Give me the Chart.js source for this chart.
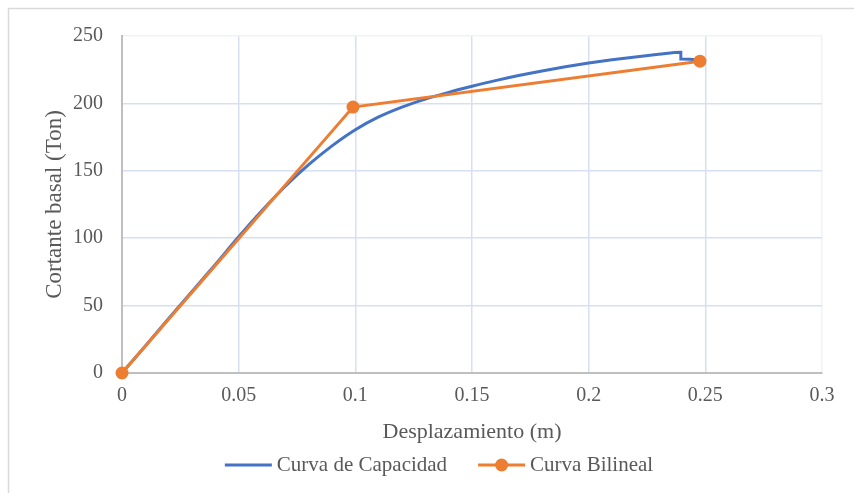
<!DOCTYPE html>
<html>
<head>
<meta charset="utf-8">
<script src="https://cdn.jsdelivr.net/npm/chart.js@4.4.1/dist/chart.umd.min.js"></script>
<style>
    html, body { margin: 0; padding: 0; background: #fff; }
    #wrap { width: 854px; height: 493px; }
</style>
</head>
<body>
<div id="wrap"><canvas id="pushover-chart" width="854" height="493"></canvas></div>
<script>
// Pushover capacity curve and its bilinear idealisation
const capacityX = [0, 0.01, 0.02, 0.03, 0.04, 0.05, 0.06, 0.07, 0.08, 0.09, 0.10, 0.11, 0.12, 0.13,
                   0.14, 0.15, 0.16, 0.17, 0.18, 0.19, 0.20, 0.21, 0.22, 0.23, 0.2395, 0.2395, 0.2455];
const capacityY = [0, 20, 40.5, 60.5, 80.5, 101, 120.5, 138.5, 154.5, 168.5, 180.5, 190, 197.3, 203.2,
                   208.2, 212.7, 216.9, 220.7, 224.1, 227.2, 230, 232.4, 234.5, 236.4, 238, 233, 232.5];

const bilinearX = [0, 0.099, 0.2477];
const bilinearY = [0, 197.3, 231.3];

const xTickLabels = ['0', '0.05', '0.1', '0.15', '0.2', '0.25', '0.3'];
const yTickLabels = ['0', '50', '100', '150', '200', '250'];

const seriesNames = ['Curva de Capacidad', 'Curva Bilineal'];
const xTitle = 'Desplazamiento (m)';
const yTitle = 'Cortante basal (Ton)';

const BLUE = '#4472c4';
const ORANGE = '#ed7d31';
const TEXT = '#595959';
const FONT = '"Liberation Serif", "Times New Roman", serif';

function toPoints(xs, ys) {
    return xs.map((x, i) => ({ x: x, y: ys[i] }));
}

// Frame around the whole chart plus a hand-drawn legend (line + marker samples)
const chartFrame = {
    id: 'chartFrame',
    beforeDraw(chart) {
        const ctx = chart.ctx;
        ctx.save();
        ctx.fillStyle = '#fff';
        ctx.fillRect(0, 0, chart.width, chart.height);
        ctx.strokeStyle = '#d9d9d9';
        ctx.lineWidth = 1.5;
        ctx.strokeRect(8.5, 8.5, chart.width + 20, chart.height + 20);
        ctx.restore();
    },
    afterDraw(chart) {
        const ctx = chart.ctx;
        const y = 465;
        const lineLen = 47;
        const gap = 5;
        const spacing = 31;
        ctx.save();
        ctx.font = '21px ' + FONT;
        const w0 = ctx.measureText(seriesNames[0]).width;
        const w1 = ctx.measureText(seriesNames[1]).width;
        const total = lineLen + gap + w0 + spacing + lineLen + gap + w1;
        let x = 439 - total / 2;

        const sets = chart.data.datasets;
        [w0, w1].forEach((w, i) => {
            ctx.strokeStyle = sets[i].borderColor;
            ctx.lineWidth = 3;
            ctx.beginPath();
            ctx.moveTo(x, y);
            ctx.lineTo(x + lineLen, y);
            ctx.stroke();
            if (sets[i].pointRadius > 0) {
                ctx.fillStyle = sets[i].pointBackgroundColor;
                ctx.beginPath();
                ctx.arc(x + lineLen / 2, y, sets[i].pointRadius, 0, Math.PI * 2);
                ctx.fill();
            }
            ctx.fillStyle = TEXT;
            ctx.textBaseline = 'middle';
            ctx.textAlign = 'left';
            ctx.fillText(seriesNames[i], x + lineLen + gap, y);
            x += lineLen + gap + w + spacing;
        });
        ctx.restore();
    }
};

const ctx = document.getElementById('pushover-chart').getContext('2d');

new Chart(ctx, {
    type: 'scatter',
    data: {
        datasets: [{
            label: seriesNames[0],
            data: toPoints(capacityX, capacityY),
            showLine: true,
            borderColor: BLUE,
            backgroundColor: BLUE,
            borderWidth: 3,
            cubicInterpolationMode: 'monotone',
            pointRadius: 0,
            pointHoverRadius: 0,
            order: 2
        }, {
            label: seriesNames[1],
            data: toPoints(bilinearX, bilinearY),
            showLine: true,
            clip: false,
            borderColor: ORANGE,
            backgroundColor: ORANGE,
            pointBackgroundColor: ORANGE,
            pointBorderColor: ORANGE,
            borderWidth: 3,
            pointRadius: 6.5,
            pointBorderWidth: 0,
            order: 1
        }]
    },
    options: {
        responsive: false,
        animation: false,
        layout: {
            padding: { left: 0, top: 36, right: 32, bottom: 40 }
        },
        plugins: {
            legend: { display: false },
            tooltip: { enabled: false }
        },
        scales: {
            x: {
                type: 'linear',
                min: 0,
                max: 0.3,
                afterFit: (scale) => { scale.height = 80; },
                ticks: {
                    stepSize: 0.05,
                    padding: 11,
                    color: TEXT,
                    font: { family: FONT, size: 20 },
                    maxRotation: 0,
                    callback: (value, i) => xTickLabels[i]
                },
                grid: {
                    drawTicks: false,
                    lineWidth: 1.5,
                    color: (c) => (c.tick && c.tick.value >= 0.3 ? '#eef2fa' : '#d6e0f2')
                },
                border: { display: true, color: '#bfbfbf', width: 2 },
                title: {
                    display: true,
                    text: xTitle,
                    color: TEXT,
                    font: { family: FONT, size: 22 },
                    padding: { top: 0, bottom: 8 }
                }
            },
            y: {
                type: 'linear',
                min: 0,
                max: 250,
                afterFit: (scale) => { scale.width = 122; },
                ticks: {
                    stepSize: 50,
                    padding: 19,
                    color: TEXT,
                    font: { family: FONT, size: 20 },
                    callback: (value, i) => yTickLabels[i]
                },
                grid: {
                    drawTicks: false,
                    lineWidth: 1.5,
                    color: (c) => (c.tick && c.tick.value >= 250 ? '#eef2fa' : '#d6e0f2')
                },
                border: { display: true, color: '#bfbfbf', width: 2 },
                title: {
                    display: true,
                    text: yTitle,
                    color: TEXT,
                    font: { family: FONT, size: 23 },
                    padding: { top: 41, bottom: 0 }
                }
            }
        }
    },
    plugins: [chartFrame]
});
</script>
</body>
</html>
